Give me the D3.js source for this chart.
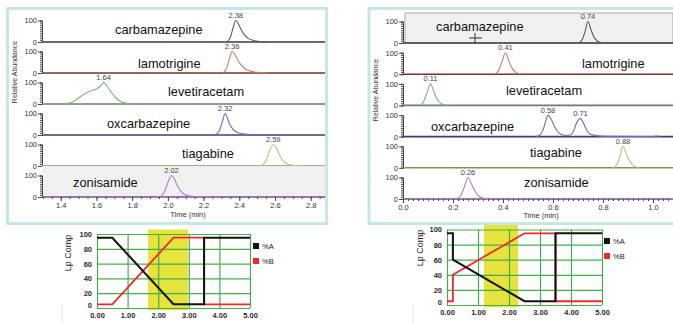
<!DOCTYPE html>
<html>
<head>
<meta charset="utf-8">
<script src="https://cdnjs.cloudflare.com/ajax/libs/d3/7.8.5/d3.min.js"></script>
<style>
  body { margin: 0; background: #fff; }
  svg { display: block; font-family: Arial, 'Liberation Sans', sans-serif; }
</style>
</head>
<body>
<div id="chart"></div>
<script>

// ---- data ----

var compounds = ['carbamazepine', 'lamotrigine', 'levetiracetam', 'oxcarbazepine', 'tiagabine', 'zonisamide'];

// method A (left), [time, relative abundance]
var peakRtA = [[2.38], [2.36], [1.64], [2.32], [2.59], [2.02]];
var carbamazepineA = [[2.33, 0], [2.35, 22], [2.365, 65], [2.38, 100], [2.395, 84], [2.41, 58], [2.43, 32], [2.45, 17], [2.48, 7], [2.52, 2], [2.56, 0]];
var lamotrigineA = [[2.31, 0], [2.33, 25], [2.345, 68], [2.36, 100], [2.375, 86], [2.39, 62], [2.41, 38], [2.43, 21], [2.46, 9], [2.50, 3], [2.55, 0]];
var levetiracetamA = [[1.41, 0], [1.45, 4], [1.49, 22], [1.53, 46], [1.57, 62], [1.60, 70], [1.625, 85], [1.64, 100], [1.655, 88], [1.68, 58], [1.71, 28], [1.74, 10], [1.77, 3], [1.81, 0]];
var oxcarbazepineA = [[2.26, 0], [2.285, 15], [2.305, 62], [2.32, 100], [2.33, 86], [2.345, 52], [2.365, 26], [2.39, 12], [2.43, 5], [2.47, 2], [2.52, 0]];
var tiagabineA = [[2.52, 0], [2.545, 18], [2.565, 62], [2.59, 100], [2.605, 88], [2.62, 60], [2.64, 30], [2.66, 14], [2.69, 5], [2.73, 1], [2.75, 0]];
var zonisamideA = [[1.95, 0], [1.975, 15], [1.995, 55], [2.02, 100], [2.035, 86], [2.05, 58], [2.07, 30], [2.09, 14], [2.12, 5], [2.16, 2], [2.21, 0]];
var timeTicksA = [1.4, 1.6, 1.8, 2.0, 2.2, 2.4, 2.6, 2.8];

// method B (right)
var peakRtB = [[0.74], [0.41], [0.11], [0.58, 0.71], [0.88], [0.26]];
var carbamazepineB = [[0.70, 0], [0.715, 12], [0.728, 52], [0.74, 100], [0.752, 62], [0.765, 25], [0.78, 7], [0.80, 0]];
var lamotrigineB = [[0.365, 0], [0.38, 12], [0.395, 55], [0.41, 100], [0.423, 62], [0.437, 26], [0.452, 8], [0.47, 0]];
var levetiracetamB = [[0.065, 0], [0.08, 12], [0.095, 55], [0.11, 100], [0.124, 62], [0.138, 26], [0.153, 8], [0.175, 0]];
var oxcarbazepineB = [[0.53, 0], [0.545, 5], [0.56, 30], [0.572, 78], [0.58, 100], [0.592, 82], [0.607, 45], [0.625, 16], [0.645, 6], [0.665, 6], [0.68, 20], [0.695, 65], [0.71, 85], [0.722, 62], [0.737, 26], [0.752, 10], [0.77, 6], [0.79, 2], [0.83, 1], [1.00, 0], [1.015, 3], [1.03, 0]];
var tiagabineB = [[0.84, 0], [0.855, 14], [0.868, 55], [0.88, 100], [0.893, 65], [0.907, 30], [0.922, 10], [0.945, 0]];
var zonisamideB = [[0.215, 0], [0.23, 15], [0.245, 55], [0.26, 100], [0.274, 70], [0.288, 36], [0.303, 14], [0.32, 4], [0.34, 0]];
var timeTicksB = [0.0, 0.2, 0.4, 0.6, 0.8, 1.0];

var abundanceTicks = [0, 100];

// gradient programs
var gradTimeA = [0, 0.5, 2.5, 3.5, 3.5, 5];
var gradPctA_A = [95, 95, 5, 5, 95, 95];
var gradPctB_A = [5, 5, 95, 95, 5, 5];
var windowA = [1.67, 2.97];

var gradTimeB = [0, 0.19, 0.19, 2.5, 3.5, 3.5, 5];
var gradPctA_B = [95, 95, 60, 5, 5, 95, 95];
var gradPctB_B = [5, 5, 40, 95, 95, 5, 5];
var windowB = [1.19, 2.29];

var gradTimeTicks = [0, 1, 2, 3, 4, 5];
var gradPctTicks = [0, 20, 40, 60, 80, 100];
var legendNames = ['%A', '%B'];

// ---- styles ----

var traceColors = ['#5a5a5a', '#c97a68', '#7ab27a', '#6b6bb8', '#c4be78', '#b07cc2'];
var baseColors = ['#3a3a3a', '#7a3328', '#6a7f6a', '#3e3e6c', '#8e8b58', '#7c4c8c'];

var svg = d3.select('#chart').append('svg')
    .attr('width', 673)
    .attr('height', 323);

function drawChrom(cfg) {
    var g = svg.append('g');
    var x = d3.scaleLinear().domain(cfg.domain).range([cfg.left, cfg.right]);
    var line = d3.line()
        .x(function(d) { return x(d[0]); })
        .curve(d3.curveMonotoneX);

    g.append('rect')
        .attr('x', cfg.frame[0])
        .attr('y', cfg.frame[1])
        .attr('width', cfg.frame[2])
        .attr('height', cfg.frame[3])
        .attr('fill', 'none')
        .attr('stroke', '#c6e6eb')
        .attr('stroke-width', 3);

    cfg.traces.forEach(function(trace, i) {
        var base = cfg.base0 + cfg.step * i;
        var y = d3.scaleLinear().domain([0, 100]).range([base, base - cfg.peakH]);

        if (cfg.shaded === i) {
            g.append('rect')
                .attr('x', cfg.shadeBox[0])
                .attr('y', base - cfg.shadeBox[1])
                .attr('width', cfg.right - cfg.shadeBox[0])
                .attr('height', cfg.shadeBox[1])
                .attr('fill', '#f0f0f0')
                .attr('stroke', cfg.shadeStroke ? '#9a9a9a' : 'none')
                .attr('stroke-width', 0.8);
        }

        // y axis, minor then major ticks
        var ax = g.append('g')
            .attr('transform', 'translate(' + cfg.left + ',0)')
            .call(d3.axisLeft(y).tickValues(d3.range(0, 101, 10)).tickSize(2).tickFormat(''));
        ax.select('.domain').attr('stroke', '#444');
        ax.selectAll('.tick line').attr('stroke', '#444');
        var ay = g.append('g')
            .attr('transform', 'translate(' + cfg.left + ',0)')
            .call(d3.axisLeft(y).tickValues(abundanceTicks).tickSize(4).tickPadding(1));
        ay.select('.domain').remove();
        ay.selectAll('.tick line').attr('stroke', '#444');
        ay.selectAll('text')
            .attr('font-size', 7.5)
            .attr('fill', '#333')
            .attr('font-family', 'Arial, Liberation Sans, sans-serif');

        // baseline of the trace
        g.append('line')
            .attr('x1', cfg.left)
            .attr('x2', cfg.right)
            .attr('y1', base)
            .attr('y2', base)
            .attr('stroke', baseColors[i])
            .attr('stroke-width', 1.6);

        g.append('path')
            .datum(trace)
            .attr('d', line.y(function(d) { return y(d[1]); }))
            .attr('fill', 'none')
            .attr('stroke', traceColors[i])
            .attr('stroke-width', 1.1);

        cfg.rts[i].forEach(function(rt) {
            var top = trace.reduce(function(m, d) {
                return Math.abs(d[0] - rt) < 0.002 ? d[1] : m;
            }, 100);
            g.append('text')
                .attr('x', x(rt))
                .attr('y', y(top) - 2.5)
                .attr('text-anchor', 'middle')
                .attr('font-size', 7.5)
                .attr('fill', '#444')
                .text(rt.toFixed(2));
        });

        g.append('text')
            .attr('x', cfg.nameX[i])
            .attr('y', cfg.nameY[i] + 4.5)
            .attr('font-size', 12.8)
            .attr('fill', '#111')
            .text(compounds[i]);
    });

    var lastBase = cfg.base0 + cfg.step * (cfg.traces.length - 1);
    var minor = g.append('g')
        .attr('transform', 'translate(0,' + lastBase + ')')
        .call(d3.axisBottom(x).ticks(40).tickSize(2).tickFormat(''));
    minor.select('.domain').remove();
    minor.selectAll('.tick line').attr('stroke', '#444');
    var major = g.append('g')
        .attr('transform', 'translate(0,' + lastBase + ')')
        .call(d3.axisBottom(x).tickValues(cfg.ticks).tickSize(4).tickPadding(2).tickFormat(d3.format('.1f')));
    major.select('.domain').remove();
    major.selectAll('.tick line').attr('stroke', '#444');
    major.selectAll('text')
        .attr('font-size', 7.5)
        .attr('fill', '#333')
        .attr('font-family', 'Arial, Liberation Sans, sans-serif');

    g.append('text')
        .attr('x', cfg.timeLabel[0])
        .attr('y', cfg.timeLabel[1])
        .attr('text-anchor', 'middle')
        .attr('font-size', 7.5)
        .attr('fill', '#333')
        .text('Time (min)');

    g.append('text')
        .attr('transform', 'translate(' + cfg.yLabel[0] + ',' + cfg.yLabel[1] + ') rotate(-90)')
        .attr('text-anchor', 'middle')
        .attr('font-size', 7)
        .attr('fill', '#333')
        .text('Relative Abundance');

    if (cfg.cursor) {
        g.append('path')
            .attr('d', 'M' + cfg.cursor[0] + ',' + (cfg.cursor[1] - 5) + 'v10M' + (cfg.cursor[0] - 6) + ',' + cfg.cursor[1] + 'h13')
            .attr('stroke', '#222')
            .attr('stroke-width', 0.9);
    }
}

function drawGradient(cfg) {
    var g = svg.append('g');
    var x = d3.scaleLinear().domain([0, 5]).range([cfg.left, cfg.right]);
    var y = d3.scaleLinear().domain([0, 100]).range([cfg.bottom, cfg.top]);

    g.append('rect')
        .attr('x', x(cfg.window[0]))
        .attr('y', y(106))
        .attr('width', x(cfg.window[1]) - x(cfg.window[0]))
        .attr('height', y(-3) - y(106))
        .attr('fill', '#e6e33c');

    var gx = g.append('g')
        .attr('transform', 'translate(0,' + cfg.bottom + ')')
        .call(d3.axisBottom(x).tickValues(gradTimeTicks).tickSize(-(cfg.bottom - cfg.top)).tickPadding(5).tickFormat(d3.format('.2f')));
    var gy = g.append('g')
        .attr('transform', 'translate(' + cfg.left + ',0)')
        .call(d3.axisLeft(y).tickValues(gradPctTicks).tickSize(-(cfg.right - cfg.left)).tickPadding(5));
    [gx, gy].forEach(function(a) {
        a.select('.domain').remove();
        a.selectAll('.tick line').attr('stroke', '#45ad4f').attr('stroke-width', 1.2);
        a.selectAll('text')
            .attr('font-size', 7.5)
            .attr('font-weight', 'bold')
            .attr('fill', '#2a2a2a')
            .attr('font-family', 'Arial, Liberation Sans, sans-serif');
    });
    // the 0 label sits tucked above the time labels
    gy.selectAll('.tick text').filter(function(d) { return d === 0; }).attr('dy', '-0.05em');

    var line = d3.line()
        .x(function(d) { return x(d[0]); })
        .y(function(d) { return y(d[1]); });
    var seriesA = cfg.time.map(function(t, i) { return [t, cfg.pctA[i]]; });
    var seriesB = cfg.time.map(function(t, i) { return [t, cfg.pctB[i]]; });
    g.append('path').datum(seriesB).attr('d', line)
        .attr('fill', 'none').attr('stroke', '#f02a2a').attr('stroke-width', 1.8);
    g.append('path').datum(seriesA).attr('d', line)
        .attr('fill', 'none').attr('stroke', '#111').attr('stroke-width', 2);

    ['#111', '#f02a2a'].forEach(function(c, i) {
        g.append('rect')
            .attr('x', cfg.legend[0])
            .attr('y', cfg.legend[1] + i * 15)
            .attr('width', 6)
            .attr('height', 6)
            .attr('fill', c);
        g.append('text')
            .attr('x', cfg.legend[0] + 9)
            .attr('y', cfg.legend[1] + i * 15 + 6)
            .attr('font-size', 7.5)
            .attr('fill', '#222')
            .text(legendNames[i]);
    });

    g.append('text')
        .attr('transform', 'translate(' + cfg.yLabel[0] + ',' + cfg.yLabel[1] + ') rotate(-90)')
        .attr('text-anchor', 'middle')
        .attr('font-size', 9)
        .attr('fill', '#222')
        .text('Lp Comp');

    g.append('line')
        .attr('x1', cfg.rule).attr('x2', cfg.rule)
        .attr('y1', 304).attr('y2', 323)
        .attr('stroke', '#e4e4e4');
}

drawChrom({
    traces: [carbamazepineA, lamotrigineA, levetiracetamA, oxcarbazepineA, tiagabineA, zonisamideA],
    rts: peakRtA,
    ticks: timeTicksA,
    domain: [1.295, 2.88],
    left: 42, right: 325,
    base0: 42, step: 31, peakH: 21.5,
    frame: [7.5, 8.5, 319, 215],
    shaded: 5, shadeBox: [42, 31], shadeStroke: false,
    nameX: [115, 138, 168, 107, 182, 73],
    nameY: [29, 63, 91, 123, 153, 182],
    timeLabel: [188, 217],
    yLabel: [17, 72]
});

drawChrom({
    traces: [carbamazepineB, lamotrigineB, levetiracetamB, oxcarbazepineB, tiagabineB, zonisamideB],
    rts: peakRtB,
    ticks: timeTicksB,
    domain: [0, 1.08],
    left: 403, right: 673,
    base0: 43, step: 31.2, peakH: 21.5,
    frame: [369, 8.5, 310, 215],
    shaded: 0, shadeBox: [405, 30], shadeStroke: true,
    nameX: [436, 582, 506, 431, 530, 524],
    nameY: [26, 63, 90, 126, 152, 182],
    timeLabel: [541, 218],
    yLabel: [378, 90],
    cursor: [475, 38]
});

drawGradient({
    time: gradTimeA, pctA: gradPctA_A, pctB: gradPctB_A, window: windowA,
    left: 97, right: 250, top: 234, bottom: 308,
    legend: [253, 243],
    yLabel: [71, 253],
    rule: 62
});

drawGradient({
    time: gradTimeB, pctA: gradPctA_B, pctB: gradPctB_B, window: windowB,
    left: 447, right: 602, top: 229.5, bottom: 305,
    legend: [604, 238],
    yLabel: [423, 248],
    rule: 413
});

</script>
</body>
</html>
